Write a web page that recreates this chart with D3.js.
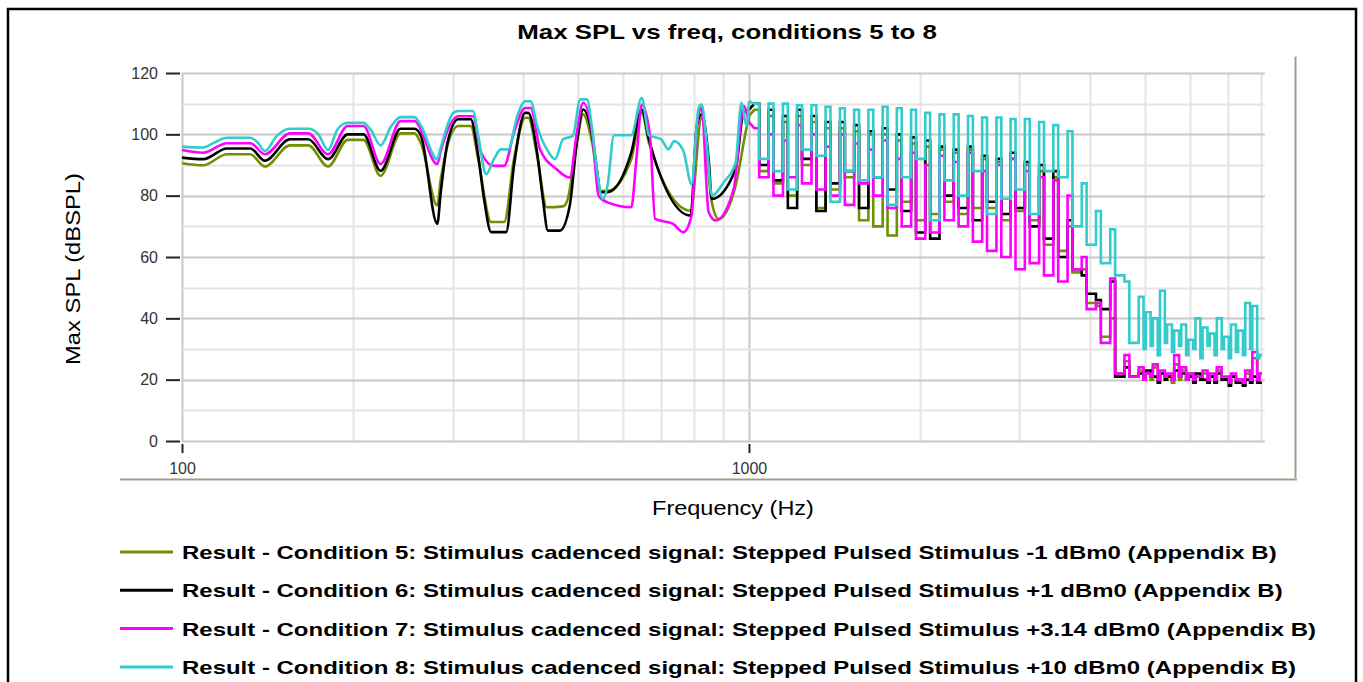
<!DOCTYPE html>
<html>
<head>
<meta charset="utf-8">
<title>Max SPL vs freq, conditions 5 to 8</title>
<script src="https://d3js.org/d3.v7.min.js"></script>
<style>
  body { margin: 0; background: #fff; }
  text { font-family: "Liberation Sans", Arial, sans-serif; }
  .tick text { font-size: 16px; fill: #333; }
  .tick line { stroke: #222; stroke-width: 2px; }
</style>
</head>
<body>
<script>
const width = 1363, height = 682;

// low frequency part of each curve, [Hz, dBSPL]
const cond5Low = [[100,90.6],[109,89.9],[120,93.5],[132,93.5],[140,89.5],[155,96.4],[167,96.4],[181,89.5],[196,98.2],[209,98.2],[224,86.5],[243,100.3],[257,100.3],[264,97],[282,76.8],[286,85.4],[307,102.7],[323,102.7],[333,91.9],[351,71.4],[370,71.4],[385,91.9],[403,105.4],[408,105.4],[423,93],[440,76.2],[470,76.5],[479,78.9],[497,97.3],[510,106.5],[529,97.3],[547,81.6],[563,81.6],[620,91.9],[647,107],[666,97.3],[789,75.1],[825,105.4],[860,77.8],[884,72.4],[947,83.2],[986,100.5],[1000,106]];
const cond6Low = [[100,92.4],[109,91.9],[120,95.4],[132,95.4],[140,91.4],[155,98.4],[167,98.4],[181,91.9],[196,100],[209,100],[224,88.1],[243,101.8],[257,101.8],[264,99.5],[282,70.8],[286,81.1],[294,97.3],[307,104.9],[323,104.9],[333,93],[341,78.9],[351,68.1],[373,68.1],[385,89.7],[403,107],[408,107],[423,94],[433,78.9],[442,68.6],[464,68.6],[483,76.8],[497,97.3],[510,108.1],[529,99.5],[540,87.6],[547,81.1],[563,81.1],[620,94],[647,108.1],[666,98.4],[789,73.5],[809,102.7],[825,106.5],[849,91.9],[860,78.9],[947,88.6],[978,107],[1000,108]];
const cond7Low = [[100,94.9],[109,94],[120,97.1],[132,97.1],[140,93.5],[155,100.3],[167,100.3],[181,93.5],[196,102.7],[209,102.7],[224,90.3],[243,104.3],[257,104.3],[282,90.3],[286,94.6],[307,105.9],[326,105.9],[337,94],[355,89.7],[370,89.7],[385,100.5],[403,108.6],[412,108.6],[428,95.1],[458,88.6],[483,85.9],[497,100.5],[510,110.3],[529,100.5],[543,80],[563,77.8],[620,76.2],[633,91.9],[647,109.7],[669,99.5],[683,72.4],[735,70.8],[766,68.1],[792,73.5],[809,102.7],[825,108.6],[849,74.6],[874,71.9],[940,82.2],[966,102.7],[978,109.2],[1000,104]];
const cond8Low = [[100,96],[109,95.7],[114,97.3],[120,98.9],[132,98.9],[136,97.3],[140,94.6],[147,99.5],[155,101.8],[167,101.8],[174,100],[181,94.9],[188,101.6],[196,103.8],[209,103.8],[215,101.6],[224,96.4],[234,102.7],[243,105.6],[257,105.6],[264,102.7],[282,91.9],[286,95.7],[301,107],[307,107.6],[326,107.6],[333,99.5],[344,87],[355,91.9],[365,95.1],[376,95.1],[391,106.5],[403,110.8],[412,110.8],[423,102.7],[440,95.1],[455,91.9],[470,98.4],[489,99.5],[504,111.4],[518,111.4],[529,101.6],[540,87.6],[552,78.9],[563,83.2],[578,99.7],[620,99.7],[647,111.9],[666,99.7],[700,98.4],[721,95.1],[738,97.8],[766,94.6],[792,83.8],[815,108.6],[825,109.7],[842,97.3],[860,80],[902,84.3],[947,90.8],[970,110.3],[990,102.7],[1000,110.8]];

// stepped pulse region: one max level and one settled level per step
const stepHz = [1022,1083,1148,1216,1289,1365,1447,1533,1624,1721,
  1823,1932,2046,2168,2297,2434,2578,2732,2894,3066,
  3249,3442,3647,3863,4093,4337,4595,4868,5010,5157,
  5308,5463,5623,5787,5957,6131,6311,6495,6686,6881,
  7083,7290,7504,7723,7949];

const cond5Peak = [108,106,104,106,104,102,102,101,100,100, 98,97,96,95,94,95,92,91,92,90, 88,86,70,56,44,40,26,23,22,24, 22,21,25,23,22,21,22,21,23,20, 21,20,22,27,22];
const cond5Floor = [88,84,80,90,76,82,86,72,70,67, 78,72,74,78,74,76,76,72,75,72, 64,62,55,45,34,22,21,20,20,20, 20,19,20,20,19,20,19,19,20,19, 19,18,19,20,18];
const cond6Peak = [110,108,106,108,106,104,104,103,101,102, 100,99,98,96,95,96,93,92,94,91, 90,88,72,54,46,52,24,22,23,21, 22,21,23,22,21,22,20,21,22,20, 21,19,20,21,19];
const cond6Floor = [90,85,76,92,75,84,88,76,86,82, 75,68,66,80,76,72,78,74,76,70, 66,60,56,48,43,21,21,20,21,19, 20,20,21,20,19,20,19,19,20,18, 19,18,19,19,18];
const cond7Peak = [102,100,98,103,100,96,100,97,95,98, 92,94,90,93,91,94,88,90,92,88, 86,85,80,60,45,53,28,24,22,25, 23,22,28,24,22,21,23,22,24,21, 22,20,23,29,22];
const cond7Floor = [86,80,86,84,82,80,77,84,80,76, 70,66,68,72,70,65,62,60,56,58, 54,52,56,43,32,22,21,20,21,20, 21,20,21,20,20,21,20,20,21,19, 20,19,20,20,19];
const cond8Peak = [110,110,110,109.5,109.5,109,108.5,108,108,109, 108.5,108,107,106.5,106.5,106,105.5,105.5,105,105, 104,103,101,84,75,69,52,47,42,40, 49,38,36,38,33,40,37,35,40,34, 38,36,45,44,28];
const cond8Floor = [92,88,82,95,93,78,88,85,86,77, 86,92,72,85,80,88,74,79,82,74, 88,86,70,64,58,54,32,30,31,28, 32,29,31,28,30,27,31,28,30,27, 29,28,30,27,22];

const seriesNames = [
  "Result - Condition 5: Stimulus cadenced signal: Stepped Pulsed Stimulus -1 dBm0 (Appendix B)",
  "Result - Condition 6: Stimulus cadenced signal: Stepped Pulsed Stimulus +1 dBm0 (Appendix B)",
  "Result - Condition 7: Stimulus cadenced signal: Stepped Pulsed Stimulus +3.14 dBm0 (Appendix B)",
  "Result - Condition 8: Stimulus cadenced signal: Stepped Pulsed Stimulus +10 dBm0 (Appendix B)"
];
const seriesColors = ["#6f9000", "#000000", "#ff00ff", "#33cccc"];
const yTicks = [0, 20, 40, 60, 80, 100, 120];
const xTickLabels = [100, 1000];

const pulseWidth = 1.02;

function stepPoints(low, peaks, floors) {
  const pts = [low[low.length - 1]];
  stepHz.forEach((f, i) => {
    if (i > 0) pts.push([f, floors[i - 1]]);
    pts.push([f, peaks[i]]);
    pts.push([f * pulseWidth, peaks[i]]);
    pts.push([f * pulseWidth, floors[i]]);
  });
  return pts;
}

const series = [
  {name: seriesNames[0], color: seriesColors[0], low: cond5Low, steps: stepPoints(cond5Low, cond5Peak, cond5Floor)},
  {name: seriesNames[1], color: seriesColors[1], low: cond6Low, steps: stepPoints(cond6Low, cond6Peak, cond6Floor)},
  {name: seriesNames[2], color: seriesColors[2], low: cond7Low, steps: stepPoints(cond7Low, cond7Peak, cond7Floor)},
  {name: seriesNames[3], color: seriesColors[3], low: cond8Low, steps: stepPoints(cond8Low, cond8Peak, cond8Floor)}
];

const svg = d3.select("body")
  .append("svg")
  .attr("width", width)
  .attr("height", height);

// outer frame
svg.append("rect")
  .attr("x", 8).attr("y", 9)
  .attr("width", 1348).attr("height", 700)
  .attr("fill", "none")
  .attr("stroke", "#000")
  .attr("stroke-width", 2.5);

const x = d3.scaleLog().domain([100, 8000]).range([182, 1261]);
const y = d3.scaleLinear().domain([0, 120]).range([441, 73]);

// grid
const grid = svg.append("g");
grid.selectAll("line.v")
  .data(x.ticks())
  .join("line")
  .attr("class", "v")
  .attr("x1", d => Math.round(x(d)) + 0.5)
  .attr("x2", d => Math.round(x(d)) + 0.5)
  .attr("y1", y(120))
  .attr("y2", y(0))
  .attr("stroke", d => (d === 100 || d === 1000) ? "#c8c8c8" : "#e4e4e4")
  .attr("stroke-width", 2);

grid.selectAll("line.h")
  .data(d3.range(0, 121, 10))
  .join("line")
  .attr("class", "h")
  .attr("x1", x(100))
  .attr("x2", x(8000) + 4)
  .attr("y1", d => Math.round(y(d)) + 0.5)
  .attr("y2", d => Math.round(y(d)) + 0.5)
  .attr("stroke", d => d % 20 === 0 ? "#c8c8c8" : "#e4e4e4")
  .attr("stroke-width", 2);

// axes
svg.append("g")
  .attr("transform", "translate(180,0)")
  .call(d3.axisLeft(y).tickValues(yTicks).tickSize(14).tickPadding(8))
  .call(g => g.select(".domain").remove());

svg.append("g")
  .attr("transform", "translate(0,444)")
  .call(d3.axisBottom(x).tickValues(xTickLabels).tickFormat(d3.format("d")).tickSize(9).tickPadding(10))
  .call(g => g.select(".domain").remove());

// data lines
svg.append("clipPath").attr("id", "plot-clip")
  .append("rect")
  .attr("x", x(100)).attr("y", y(120) - 5)
  .attr("width", x(8000) - x(100) + 1).attr("height", y(0) - y(120) + 10);

const smoothLine = d3.line()
  .x(d => x(d[0]))
  .y(d => y(d[1]))
  .curve(d3.curveMonotoneX);

const stepLine = d3.line()
  .x(d => x(d[0]))
  .y(d => y(d[1]));

const lines = svg.append("g")
  .attr("clip-path", "url(#plot-clip)")
  .selectAll("g")
  .data(series)
  .join("g")
  .attr("fill", "none")
  .attr("stroke", d => d.color)
  .attr("stroke-width", 2.6)
  .attr("stroke-linejoin", "miter");

lines.append("path").attr("d", d => smoothLine(d.low));
lines.append("path").attr("d", d => stepLine(d.steps));

// panel separators
svg.append("rect").attr("x", 1294).attr("y", 56).attr("width", 3).attr("height", 425).attr("fill", "#e6e2d2");
svg.append("line").attr("x1", 1295.5).attr("x2", 1295.5).attr("y1", 57).attr("y2", 481)
  .attr("stroke", "#9a9a96").attr("stroke-width", 1.5);
svg.append("rect").attr("x", 120).attr("y", 478).attr("width", 1177).attr("height", 3).attr("fill", "#e6e2d2");
svg.append("line").attr("x1", 120).attr("x2", 1297).attr("y1", 479.5).attr("y2", 479.5)
  .attr("stroke", "#9a9a96").attr("stroke-width", 1.5);

// the reference text is wider than the font: stretch glyphs horizontally
function stretchTo(sel, target) {
  const w = sel.node().getComputedTextLength();
  return target / w;
}

// titles
const title = svg.append("text")
  .attr("text-anchor", "middle")
  .style("font-size", "20px")
  .style("font-weight", "bold")
  .text("Max SPL vs freq, conditions 5 to 8");
title.attr("transform", `translate(727,39) scale(${stretchTo(title, 420)},1)`);

const xTitle = svg.append("text")
  .attr("text-anchor", "middle")
  .style("font-size", "20px")
  .text("Frequency (Hz)");
xTitle.attr("transform", `translate(733,515) scale(${stretchTo(xTitle, 162)},1)`);

const yTitle = svg.append("text")
  .attr("text-anchor", "middle")
  .style("font-size", "20px")
  .text("Max SPL (dBSPL)");
yTitle.attr("transform", `translate(80,269) rotate(-90) scale(${stretchTo(yTitle, 192)},1)`);

// legend
const legend = svg.append("g")
  .selectAll("g")
  .data(series)
  .join("g")
  .attr("transform", (d, i) => `translate(0,${552 + i * 38.3})`);

legend.append("line")
  .attr("x1", 120).attr("x2", 173)
  .attr("stroke", d => d.color)
  .attr("stroke-width", 3);

const legendText = legend.append("text")
  .style("font-size", "18.5px")
  .style("font-weight", "bold")
  .text(d => d.name);

// same horizontal stretch for every row, set by the first row's width
const legendStretch = stretchTo(d3.select(legendText.nodes()[0]), 1095);
legendText.attr("transform", `translate(182,7) scale(${legendStretch},1)`);
</script>
</body>
</html>
